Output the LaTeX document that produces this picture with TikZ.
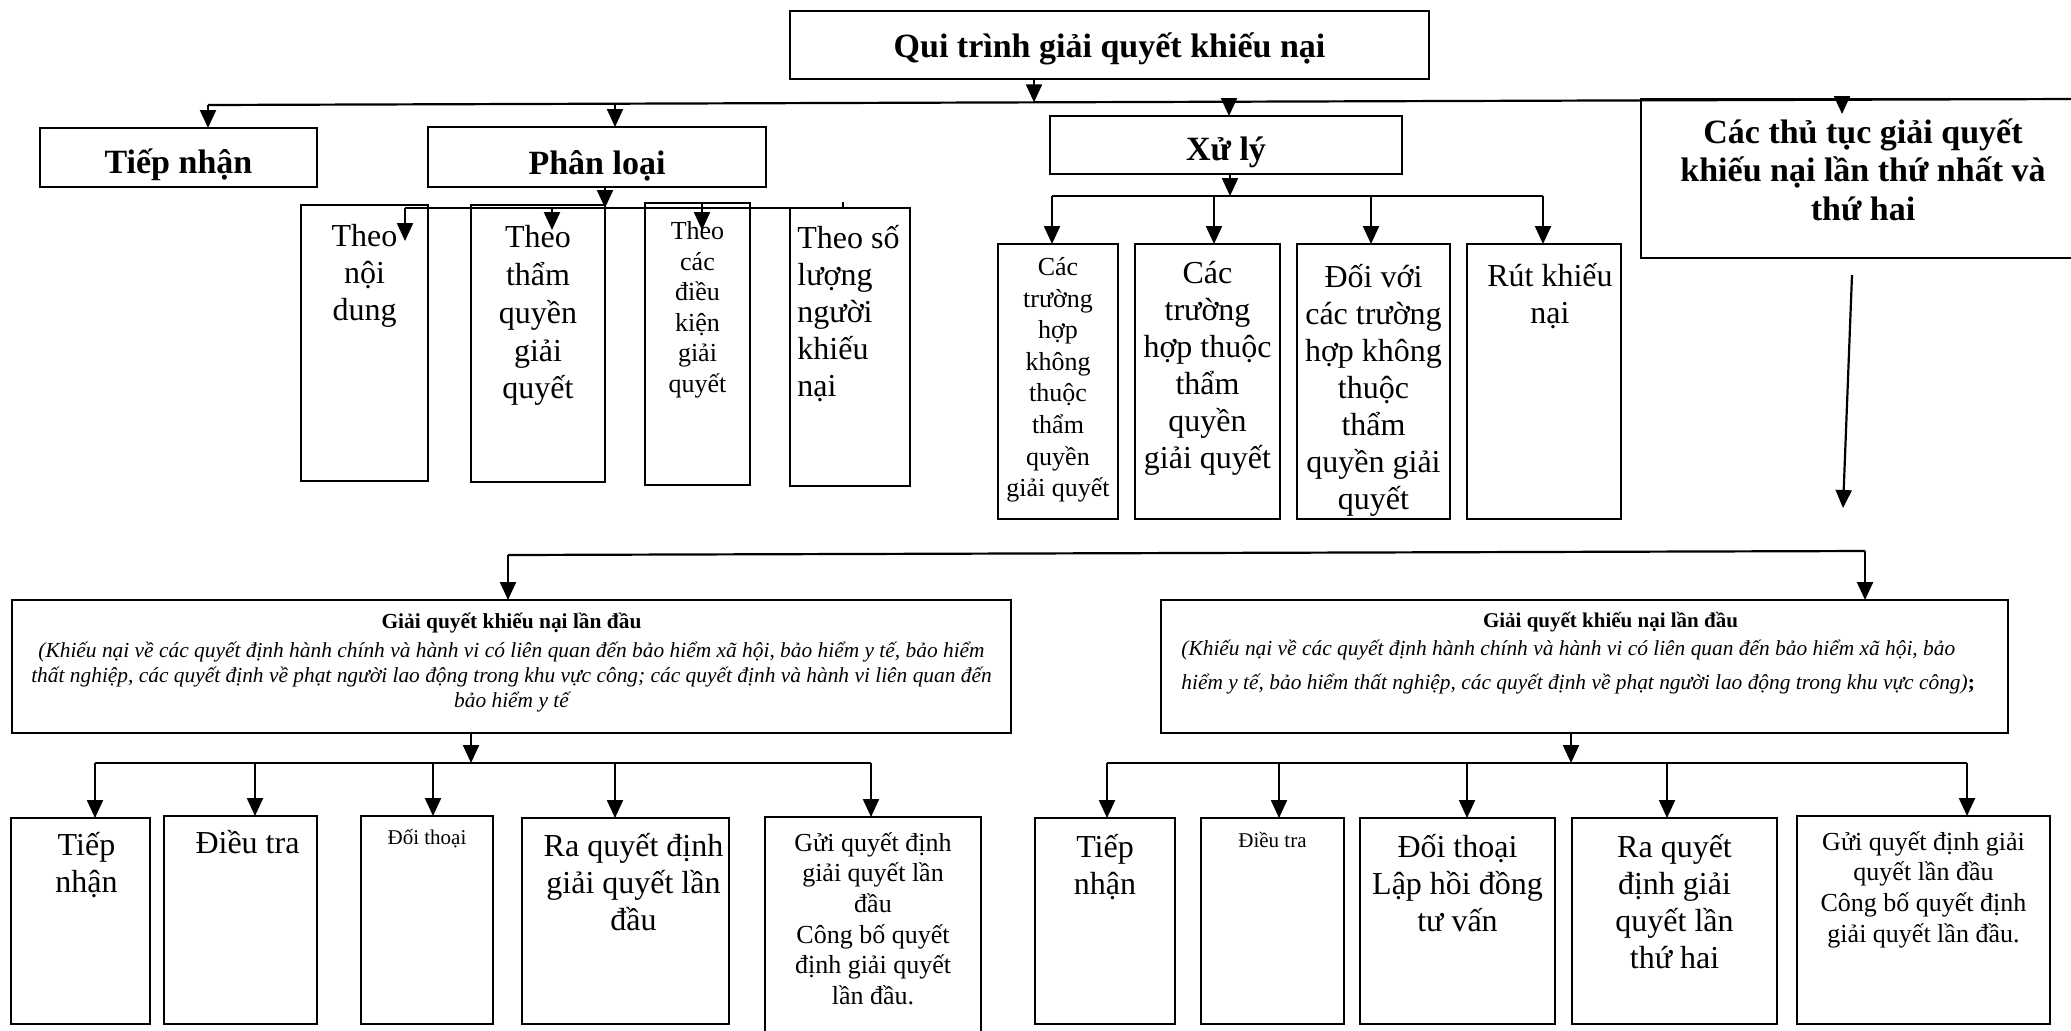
\documentclass[tikz,border=0pt]{standalone}
\usepackage{fontspec}
\setmainfont{Liberation Serif}
\usetikzlibrary{arrows.meta,calc}
% box with label text at top: name, x1, y1, x2, y2, pad(px), label style, text
\newcommand\bx[8]{%
  \node[box, anchor=north west, minimum width={(#4-#2)*0.5pt}, minimum height={(#5-#3)*0.5pt},
    label={[#7, anchor=north, yshift={-(#6)*0.5pt}]north:{#8}}] (#1) at (#2,#3) {};}
% single line box with centred text: name, x1, y1, x2, y2, style, text
\newcommand\sbx[7]{%
  \node[box, #6, anchor=north west, minimum width={(#4-#2)*0.5pt}, minimum height={(#5-#3)*0.5pt}] (#1) at (#2,#3) {#7};}
\begin{document}
\begin{tikzpicture}[x=0.5pt,y=-0.5pt,
  box/.style={draw, line width=1.1pt, inner sep=0pt, outer sep=0pt},
  ln/.style={line width=1.1pt},
  arr/.style={line width=1.1pt, -{Triangle[length=9pt,width=8pt]}},
  hb/.style={font=\bfseries\fontsize{17}{19.25}\selectfont, align=center, inner sep=0pt},
  ta/.style={font=\fontsize{16}{18.5}\selectfont, align=center, inner sep=0pt},
  tb/.style={font=\fontsize{13}{15.3}\selectfont, align=center, inner sep=0pt},
  tc/.style={font=\fontsize{10.5}{13}\selectfont, align=center, inner sep=0pt},
  ti/.style={font=\itshape\fontsize{10.7}{12.5}\selectfont, align=center, inner sep=0pt},
]
\useasboundingbox (0,0) rectangle (2071,1030);
\clip (0,0) rectangle (2071,1030);

% ---------- top level ----------
\sbx{title}{790}{11}{1429}{79}{hb, text height=14.5pt, text depth=2pt}{Qui trình giải quyết khiếu nại}
\sbx{tiep}{40}{128}{317}{187}{hb, text height=18pt, text depth=2pt}{Tiếp nhận}
\sbx{phanloai}{428}{127}{766}{187}{hb, text height=19pt, text depth=2pt}{Phân loại}
\sbx{xuly}{1050}{116}{1402}{174}{hb, text height=17pt, text depth=2pt}{Xử lý}
\bx{thutuc}{1641}{99}{2085}{258}{19}{hb}{Các thủ tục giải quyết\\khiếu nại lần thứ nhất và\\thứ hai}

% ---------- Phan loai children ----------
\bx{th1}{301}{205}{428}{481}{19}{ta}{Theo\\nội\\dung}
\bx{th2}{471}{205}{605}{482}{20}{ta, font=\fontsize{16}{18.9}\selectfont}{Theo\\thẩm\\quyền\\giải\\quyết}
\bx{th3}{645}{203}{750}{485}{18}{tb}{Theo\\các\\điều\\kiện\\giải\\quyết}
\node[box, anchor=north west, minimum width={120*0.5pt}, minimum height={278*0.5pt},
  label={[ta, align=left, anchor=north west, xshift=3.5pt, yshift=-8.5pt]north west:{Theo số\\lượng\\người\\khiếu\\nại}}] (th4) at (790,208) {};

% ---------- Xu ly children ----------
\bx{xa}{998}{244}{1118}{519}{13}{tb, font=\fontsize{13}{15.8}\selectfont}{Các\\trường\\hợp\\không\\thuộc\\thẩm\\quyền\\giải quyết}
\bx{xb}{1135}{244}{1280}{519}{17}{ta}{Các\\trường\\hợp thuộc\\thẩm\\quyền\\giải quyết}
\bx{xc}{1297}{244}{1450}{519}{20}{ta}{Đối với\\các trường\\hợp không\\thuộc\\thẩm\\quyền giải\\quyết}
\bx{xd}{1467}{244}{1621}{519}{19}{ta, xshift=3pt}{Rút khiếu\\nại}

% ---------- big boxes ----------
\bx{gl}{12}{600}{1011}{733}{13}{ti}{{\bfseries\upshape Giải quyết khiếu nại lần đầu}\\[2pt](Khiếu nại về các quyết định hành chính và hành vi có liên quan đến bảo hiểm xã hội, bảo hiểm y tế, bảo hiểm\\thất nghiệp, các quyết định về phạt người lao động trong khu vực công; các quyết định và hành vi liên quan đến\\bảo hiểm y tế}
\node[box, anchor=north west, minimum width={847*0.5pt}, minimum height={133*0.5pt},
  label={[tc, font=\bfseries\fontsize{10.5}{13}\selectfont, anchor=north, xshift=13pt, yshift=-6pt]north:{Giải quyết khiếu nại lần đầu}},
  label={[ti, font=\itshape\fontsize{10.7}{17}\selectfont, align=left, anchor=north west, xshift=10pt, yshift=-20pt]north west:{(Khiếu nại về các quyết định hành chính và hành vi có liên quan đến bảo hiểm xã hội, bảo\\hiểm y tế, bảo hiểm thất nghiệp, các quyết định về phạt người lao động trong khu vực công){\upshape\bfseries;}}}] (gr) at (1161,600) {};

% ---------- bottom left ----------
\bx{ta1}{11}{818}{150}{1024}{14}{ta, xshift=3pt}{Tiếp\\nhận}
\bx{ta2}{164}{816}{317}{1024}{14}{ta, xshift=3.5pt}{Điều tra}
\bx{ta3}{361}{816}{493}{1024}{13}{tc}{Đối thoại}
\bx{ta4}{522}{818}{729}{1024}{15}{ta, xshift=4pt}{Ra quyết định\\giải quyết lần\\đầu}
\bx{ta5}{765}{817}{981}{1040}{15}{tb}{Gửi quyết định\\giải quyết lần\\đầu\\Công bố quyết\\định giải quyết\\lần đầu.}

% ---------- bottom right ----------
\bx{ua1}{1035}{818}{1175}{1024}{16}{ta}{Tiếp\\nhận}
\bx{ua2}{1201}{818}{1344}{1024}{14}{tc}{Điều tra}
\bx{ua3}{1360}{818}{1555}{1024}{16}{ta}{Đối thoại\\Lập hồi đồng\\tư vấn}
\bx{ua4}{1572}{818}{1777}{1024}{16}{ta}{Ra quyết\\định giải\\quyết lần\\thứ hai}
\bx{ua5}{1797}{816}{2050}{1024}{15}{tb}{Gửi quyết định giải\\quyết lần đầu\\Công bố quyết định\\giải quyết lần đầu.}

% ---------- top bus ----------
\coordinate (bL) at (208,105);
\coordinate (bR) at (2071,99);
\coordinate (bT) at (1034,102.3);
\coordinate (b2) at (615,103.7);
\coordinate (b3) at (1229,101.7);
\coordinate (b4) at (1842,99.7);
\coordinate (b4t) at (1842,114);
\draw[ln] (bL) -- (bR);
\draw[arr] (title.south -| bT) -- (bT);
\draw[arr] (bL) -- (bL |- tiep.north);
\draw[arr] (b2) -- (b2 |- phanloai.north);
\draw[arr] (b3) -- (b3 |- xuly.north);
\draw[arr] (b4) -- (b4t);

% ---------- phan loai bus ----------
\coordinate (p0) at (605,208);
\coordinate (p1) at (405,208);  \coordinate (p1e) at (405,241);
\coordinate (p2) at (552,208);  \coordinate (p2e) at (552,230);
\coordinate (p3) at (702,203);  \coordinate (p3e) at (702,230);
\coordinate (p4) at (843,208);  \coordinate (p4s) at (843,202);
\draw[arr] (phanloai.south -| p0) -- (p0);
\draw[ln] (p1) -- (p4);
\draw[arr] (p1) -- (p1e);
\draw[arr] (p2) -- (p2e);
\draw[arr] (p3) -- (p3e);
\draw[ln] (p4s) -- (p4);

% ---------- xu ly bus ----------
\coordinate (x0) at (1230,196);
\coordinate (x1) at (1052,196);
\coordinate (x2) at (1214,196);
\coordinate (x3) at (1371,196);
\coordinate (x4) at (1543,196);
\draw[arr] (xuly.south -| x0) -- (x0);
\draw[ln] (x1) -- (x4);
\draw[arr] (x1) -- (x1 |- xa.north);
\draw[arr] (x2) -- (x2 |- xb.north);
\draw[arr] (x3) -- (x3 |- xc.north);
\draw[arr] (x4) -- (x4 |- xd.north);

% ---------- thu tuc arrow ----------
\coordinate (t1) at (1852,275);
\coordinate (t2) at (1843,508);
\draw[arr] (t1) -- (t2);

% ---------- lower bus ----------
\coordinate (gL) at (508,555);
\coordinate (gR) at (1865,551);
\draw[ln] (gL) -- (gR);
\draw[arr] (gL) -- (gL |- gl.north);
\draw[arr] (gR) -- (gR |- gr.north);

% ---------- bottom left bus ----------
\coordinate (l0) at (471,763);
\coordinate (l1) at (95,763);
\coordinate (l2) at (255,763);
\coordinate (l3) at (433,763);
\coordinate (l4) at (615,763);
\coordinate (l5) at (871,763);
\draw[arr] (gl.south -| l0) -- (l0);
\draw[ln] (l1) -- (l5);
\draw[arr] (l1) -- (l1 |- ta1.north);
\draw[arr] (l2) -- (l2 |- ta2.north);
\draw[arr] (l3) -- (l3 |- ta3.north);
\draw[arr] (l4) -- (l4 |- ta4.north);
\draw[arr] (l5) -- (l5 |- ta5.north);

% ---------- bottom right bus ----------
\coordinate (r0) at (1571,763);
\coordinate (r1) at (1107,763);
\coordinate (r2) at (1279,763);
\coordinate (r3) at (1467,763);
\coordinate (r4) at (1667,763);
\coordinate (r5) at (1967,763);
\draw[arr] (gr.south -| r0) -- (r0);
\draw[ln] (r1) -- (r5);
\draw[arr] (r1) -- (r1 |- ua1.north);
\draw[arr] (r2) -- (r2 |- ua2.north);
\draw[arr] (r3) -- (r3 |- ua3.north);
\draw[arr] (r4) -- (r4 |- ua4.north);
\draw[arr] (r5) -- (r5 |- ua5.north);
\end{tikzpicture}
\end{document}
